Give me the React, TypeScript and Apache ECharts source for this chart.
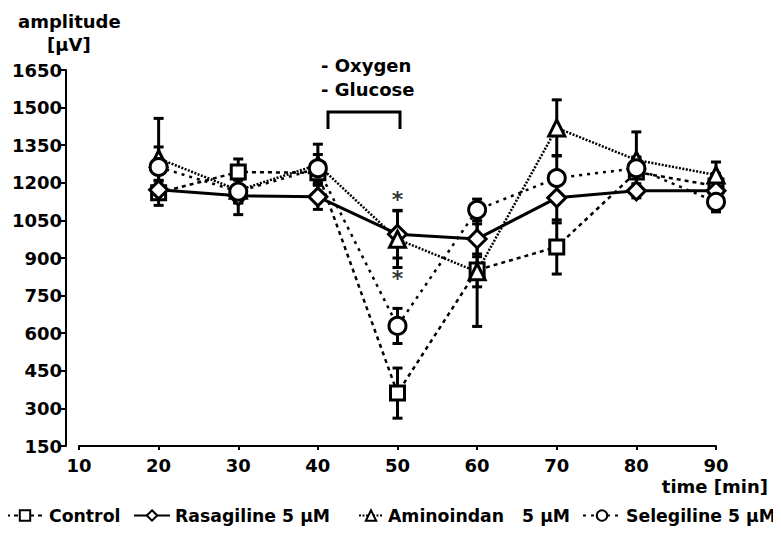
import React, { useEffect, useRef } from "react";
import * as echarts from "echarts";

const times = [20, 30, 40, 50, 60, 70, 80, 90];
const yTicks = [150, 300, 450, 600, 750, 900, 1050, 1200, 1350, 1500, 1650];

const controlVals = [1160, 1243, 1240, 361, 852, 944, 1243, 1187];
const controlErr = [50, 52, 45, 100, 225, 108, 60, 50];
const rasagilineVals = [1172, 1148, 1144, 995, 976, 1140, 1168, 1168];
const rasagilineErr = [35, 75, 50, 95, 60, 100, 28, 40];
const aminoindanVals = [1297, 1170, 1272, 975, 845, 1419, 1291, 1231];
const aminoindanErr = [160, 50, 82, 113, 60, 112, 112, 52];
const selegilineVals = [1263, 1165, 1258, 629, 1092, 1219, 1258, 1124];
const selegilineErr = [80, 45, 55, 70, 43, 90, 40, 40];

const seriesNames = ["Control", "Rasagiline 5 µM", "Aminoindan   5 µM", "Selegiline 5 µM"];

const starX = [50, 50];
const starY = [1135, 820];

const FONT = "'DejaVu Sans', Verdana, sans-serif";
const FS = 18;
const LFS = 17.3;

export default function App() {
  const ref = useRef<HTMLDivElement>(null);
  useEffect(() => {
    if (!ref.current) return;
    const chart = echarts.init(ref.current, null, { renderer: "svg" });

    const mkLine = (name: string, vals: number[], symbol: string, size: number, dash: any, width: number) => ({
      name,
      type: "line",
      data: times.map((t, i) => [t, vals[i]]),
      symbol,
      symbolSize: size,
      showAllSymbol: true,
      z: 5,
      lineStyle: { color: "#000", width, type: dash },
      itemStyle: { color: "#fff", borderColor: "#000", borderWidth: 3 },
      emphasis: { disabled: true },
    });

    const mkErr = (vals: number[], errs: number[]) => ({
      type: "custom",
      z: 3,
      silent: true,
      data: times.map((t, i) => [t, vals[i] - errs[i], vals[i] + errs[i]]),
      renderItem: (params: any, api: any) => {
        const x = api.value(0);
        const lo = api.coord([x, api.value(1)]);
        const hi = api.coord([x, api.value(2)]);
        const hw = 5;
        const style = { stroke: "#000", lineWidth: 3, fill: "none" };
        return {
          type: "group",
          children: [
            { type: "line", shape: { x1: lo[0], y1: lo[1], x2: hi[0], y2: hi[1] }, style },
            { type: "line", shape: { x1: lo[0] - hw, y1: lo[1], x2: lo[0] + hw, y2: lo[1] }, style },
            { type: "line", shape: { x1: hi[0] - hw, y1: hi[1], x2: hi[0] + hw, y2: hi[1] }, style },
          ],
        };
      },
    });

    const legendLeft = [5, 133, 358, 582];
    const legendIconW = [38, 36, 24, 38];
    const legends = seriesNames.map((n, i) => ({
      left: legendLeft[i],
      top: 507,
      itemWidth: legendIconW[i],
      itemHeight: 13,
      itemGap: 0,
      padding: 0,
      textStyle: { color: "#000", fontSize: LFS, fontWeight: "bold", fontFamily: FONT },
      data: [n],
    }));

    const option: any = {
      animation: false,
      backgroundColor: "#fff",
      textStyle: { fontFamily: FONT },
      grid: { left: 79, right: 65, top: 70, bottom: 93 },
      xAxis: {
        type: "value",
        min: 10,
        max: 90,
        interval: 10,
        splitLine: { show: false },
        axisLine: { lineStyle: { color: "#000", width: 2 } },
        axisTick: { length: 4, lineStyle: { color: "#000", width: 2 } },
        axisLabel: { color: "#000", fontSize: FS, fontWeight: "bold", fontFamily: FONT, margin: 10 },
      },
      yAxis: {
        type: "value",
        min: yTicks[0],
        max: yTicks[yTicks.length - 1],
        interval: 150,
        offset: 13,
        splitLine: { show: false },
        axisLine: { show: true, lineStyle: { color: "#000", width: 2 } },
        axisTick: { show: true, length: 5, lineStyle: { color: "#000", width: 2 } },
        axisLabel: {
          color: "#000",
          fontSize: FS,
          fontWeight: "bold",
          fontFamily: FONT,
          margin: 4,
          formatter: (v: number) => String(v),
        },
      },
      legend: legends,
      graphic: [
        { type: "text", left: 18, top: 12, style: { text: "amplitude", font: `bold ${FS}px ${FONT}`, fill: "#000" } },
        { type: "text", left: 47, top: 35, style: { text: "[µV]", font: `bold ${FS}px ${FONT}`, fill: "#000" } },
        { type: "text", right: 13, top: 477, style: { text: "time [min]", font: `bold ${FS}px ${FONT}`, fill: "#000" } },
        { type: "text", left: 321, top: 56, style: { text: "- Oxygen", font: `bold ${FS}px ${FONT}`, fill: "#000" } },
        { type: "text", left: 321, top: 80, style: { text: "- Glucose", font: `bold ${FS}px ${FONT}`, fill: "#000" } },
        {
          type: "polyline",
          shape: { points: [[328, 129], [328, 112], [400, 112], [400, 129]] },
          style: { stroke: "#000", lineWidth: 3, fill: "none" },
        },
      ],
      series: [
        mkErr(controlVals, controlErr),
        mkErr(rasagilineVals, rasagilineErr),
        mkErr(aminoindanVals, aminoindanErr),
        mkErr(selegilineVals, selegilineErr),
        mkLine(seriesNames[0], controlVals, "rect", 14, [4, 4], 2.5),
        mkLine(seriesNames[1], rasagilineVals, "diamond", 18, "solid", 3),
        mkLine(seriesNames[2], aminoindanVals, "triangle", 16, [2, 1.5], 2.5),
        mkLine(seriesNames[3], selegilineVals, "circle", 17, [3, 5], 2.5),
        {
          type: "scatter",
          symbolSize: 0,
          z: 6,
          silent: true,
          data: starX.map((x, i) => [x, starY[i]]),
          label: {
            show: true,
            position: "inside",
            formatter: "*",
            color: "#000",
            fontSize: 22,
            fontWeight: "bold",
            fontFamily: FONT,
          },
        },
      ],
    };
    chart.setOption(option);
    return () => chart.dispose();
  }, []);
  return <div ref={ref} style={{ width: 781, height: 539, margin: -8 }} />;
}
